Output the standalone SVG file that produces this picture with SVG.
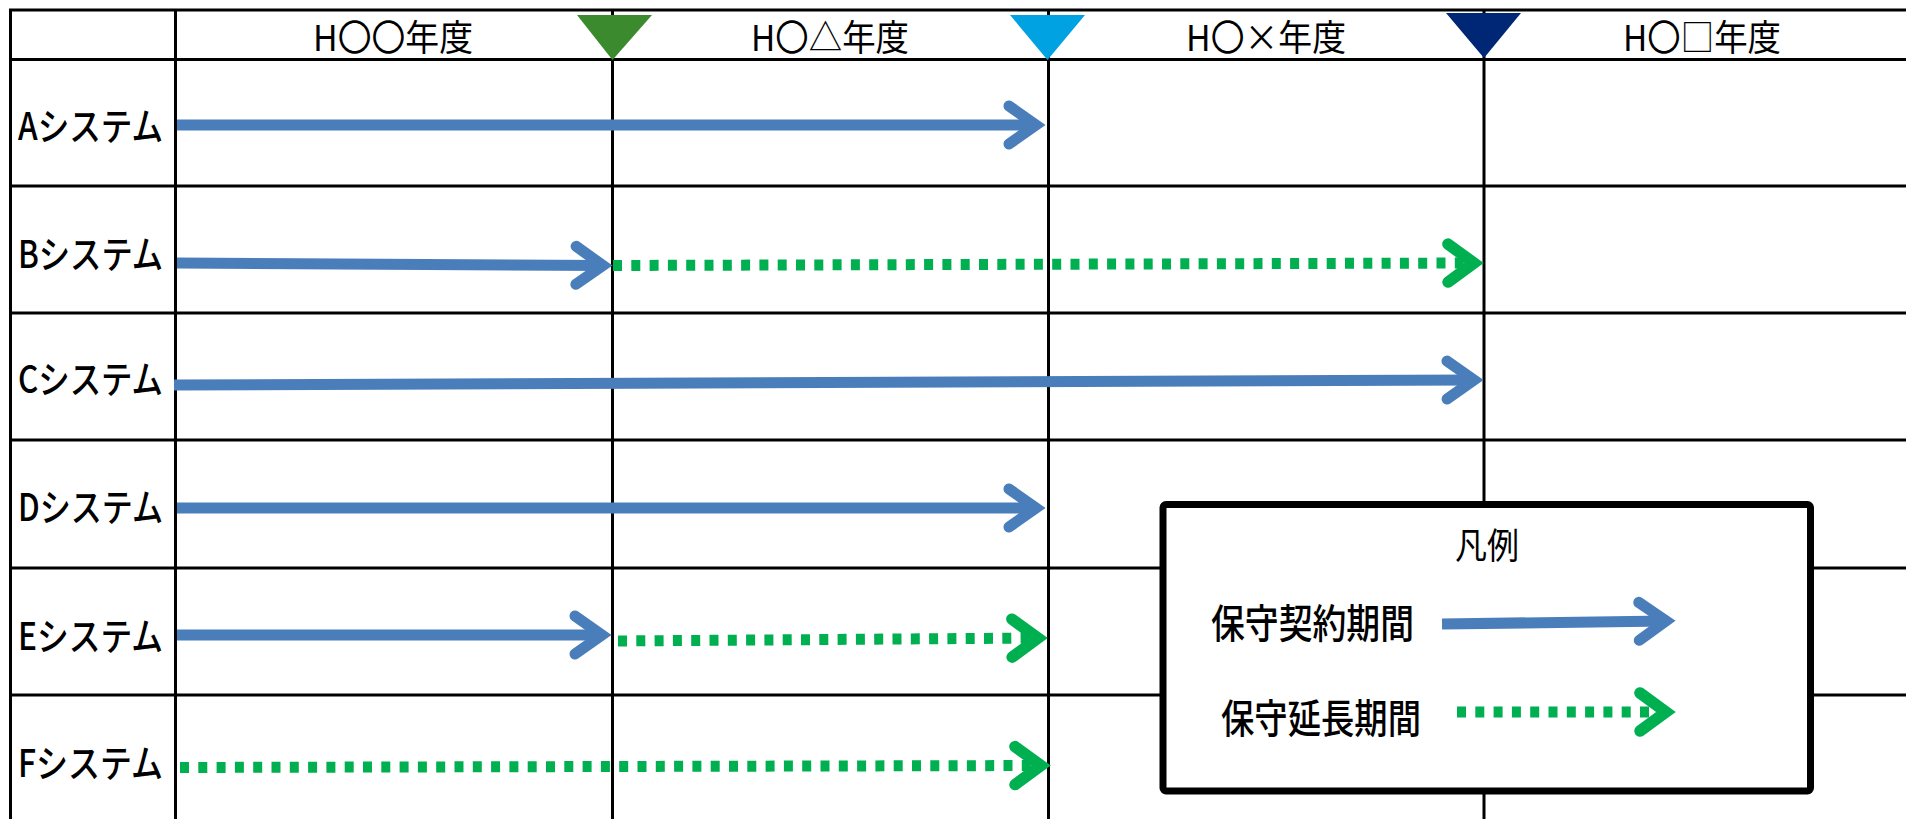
<svg xmlns="http://www.w3.org/2000/svg" width="1906" height="819" viewBox="0 0 1906 819">
<style>
.grid line{stroke:#000;stroke-width:3}
.t{font-family:"Noto Sans CJK JP","Noto Sans",sans-serif;fill:#000}
.hd{font-size:36px;text-anchor:middle}
.lb{font-size:38px;font-weight:500}
.lg{font-size:40px;font-weight:500}
.blue{stroke:#4A7EBB;stroke-width:11;fill:none;marker-end:url(#hb)}
.green{stroke:#00B050;stroke-width:11;fill:none;stroke-dasharray:9 9.3;marker-end:url(#hg)}
</style>
<defs>
<marker id="hb" markerUnits="userSpaceOnUse" viewBox="-40 -30 60 60" refX="0" refY="0" markerWidth="60" markerHeight="60" orient="auto" overflow="visible">
<path d="M-27,-19 L0,0 L-27,19" fill="none" stroke="#4A7EBB" stroke-width="11" stroke-linecap="round" stroke-linejoin="miter" stroke-dasharray="none"/>
</marker>
<marker id="hg" markerUnits="userSpaceOnUse" viewBox="-40 -30 60 60" refX="0" refY="0" markerWidth="60" markerHeight="60" orient="auto" overflow="visible">
<path d="M-26,-19 L0,0 L-26,19" fill="none" stroke="#00B050" stroke-width="11.5" stroke-linecap="round" stroke-linejoin="miter" stroke-dasharray="none"/>
</marker>
</defs>
<rect width="1906" height="819" fill="#fff"/>
<g id="grid" class="grid">
<line x1="9" y1="10" x2="1906" y2="10"/>
<line x1="9" y1="59.5" x2="1906" y2="59.5"/>
<line x1="9" y1="186" x2="1906" y2="186"/>
<line x1="9" y1="313" x2="1906" y2="313"/>
<line x1="9" y1="440" x2="1906" y2="440"/>
<line x1="9" y1="568" x2="1906" y2="568"/>
<line x1="9" y1="695" x2="1906" y2="695"/>
<line x1="10.5" y1="9" x2="10.5" y2="819"/>
<line x1="175.5" y1="9" x2="175.5" y2="819"/>
<line x1="612.5" y1="9" x2="612.5" y2="819"/>
<line x1="1048.5" y1="9" x2="1048.5" y2="819"/>
<line x1="1484" y1="9" x2="1484" y2="819"/>
</g>
<g id="headers">
<text class="t hd" x="393" y="51" textLength="160" lengthAdjust="spacingAndGlyphs">H〇〇年度</text>
<text class="t hd" x="830" y="51" textLength="158" lengthAdjust="spacingAndGlyphs">H〇△年度</text>
<text class="t hd" x="1266" y="51" textLength="160" lengthAdjust="spacingAndGlyphs">H〇×年度</text>
<text class="t hd" x="1702" y="51" textLength="158" lengthAdjust="spacingAndGlyphs">H〇□年度</text>
</g>
<g id="milestones">
<polygon id="m1" points="577,15 652,15 612.5,60" fill="#3C8A2E"/>
<polygon id="m2" points="1010,15 1085,15 1047.5,60" fill="#00A2E1"/>
<polygon id="m3" points="1446,13 1521,13 1484,58" fill="#002776"/>
</g>
<g id="labels">
<text class="t lb" x="18" y="140" textLength="145" lengthAdjust="spacingAndGlyphs">Aシステム</text>
<text class="t lb" x="18" y="268" textLength="145" lengthAdjust="spacingAndGlyphs">Bシステム</text>
<text class="t lb" x="18" y="393" textLength="145" lengthAdjust="spacingAndGlyphs">Cシステム</text>
<text class="t lb" x="18" y="521" textLength="145" lengthAdjust="spacingAndGlyphs">Dシステム</text>
<text class="t lb" x="18" y="650" textLength="145" lengthAdjust="spacingAndGlyphs">Eシステム</text>
<text class="t lb" x="18" y="777" textLength="145" lengthAdjust="spacingAndGlyphs">Fシステム</text>
</g>
<g id="connectors">
<line class="blue" x1="177" y1="125" x2="1036" y2="125"/>
<line class="blue" x1="177" y1="263" x2="603" y2="265.5"/>
<line class="green" x1="613" y1="265.5" x2="1474" y2="263"/>
<line class="blue" x1="174" y1="385" x2="1474" y2="380"/>
<line class="blue" x1="177" y1="508" x2="1036" y2="508"/>
<line class="blue" x1="177" y1="635" x2="602" y2="635"/>
<line class="green" x1="618" y1="641" x2="1038" y2="638"/>
<line class="green" x1="180" y1="767.5" x2="1041" y2="765.5"/>
</g>
<g id="legend">
<rect x="1163" y="504.5" width="647.5" height="286.5" rx="3" fill="#fff" stroke="#000" stroke-width="7"/>
<text class="t" x="1487" y="559" font-size="36" text-anchor="middle" textLength="64" lengthAdjust="spacingAndGlyphs">凡例</text>
<text class="t lg" x="1211" y="638" textLength="203" lengthAdjust="spacingAndGlyphs">保守契約期間</text>
<text class="t lg" x="1221" y="733" textLength="200" lengthAdjust="spacingAndGlyphs">保守延長期間</text>
<line class="blue" x1="1442" y1="624" x2="1666" y2="621"/>
<line class="green" x1="1457" y1="712" x2="1666" y2="712"/>
</g>
</svg>
